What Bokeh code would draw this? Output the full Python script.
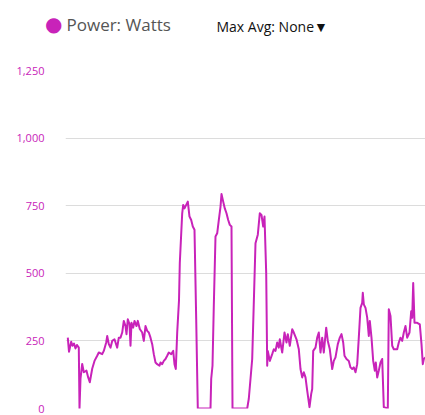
from bokeh.plotting import figure
from bokeh.layouts import column
from bokeh.models import Range1d, FixedTicker, NumeralTickFormatter
from bokeh.core.properties import value
from bokeh.embed import file_html
from bokeh.resources import INLINE

# ---- data ----
title_text = "Power: Watts"
selector_text = "Max Avg: None\u25bc"
legend_dot = "\u25cf"
y_ticks = [0, 250, 500, 750, 1000, 1250]

time_s = [3, 15, 37, 50, 65, 80, 95, 113, 120, 130, 147, 163, 190, 207, 223, 247, 270, 297, 313, 347,
          363, 387, 397, 413, 430, 447, 470, 497, 513, 530, 547, 563, 580, 590, 603, 620, 630, 640, 657, 670,
          690, 703, 723, 747, 763, 780, 797, 813, 830, 847, 863, 880, 897, 920, 930, 947, 963, 980, 997, 1013,
          1037, 1057, 1070, 1083, 1097, 1115, 1123, 1147, 1157, 1170, 1187, 1203, 1220, 1237, 1253, 1270, 1287, 1303, 1430, 1437,
          1450, 1463, 1480, 1497, 1513, 1530, 1540, 1557, 1573, 1590, 1607, 1623, 1640, 1650, 1797, 1813, 1847, 1880, 1903, 1923,
          1940, 1957, 1970, 1987, 1997, 2003, 2023, 2047, 2063, 2080, 2097, 2113, 2123, 2147, 2170, 2190, 2203, 2223, 2247, 2263,
          2290, 2313, 2330, 2347, 2363, 2380, 2397, 2420, 2437, 2447, 2457, 2480, 2497, 2513, 2530, 2547, 2563, 2587, 2603, 2623,
          2647, 2663, 2680, 2703, 2723, 2740, 2757, 2770, 2790, 2813, 2830, 2847, 2863, 2880, 2897, 2913, 2930, 2947, 2953, 2963,
          2980, 2997, 3013, 3023, 3040, 3057, 3073, 3083, 3097, 3113, 3130, 3147, 3163, 3203, 3213, 3230, 3247, 3263, 3297, 3313,
          3330, 3347, 3363, 3380, 3397, 3420, 3437, 3447, 3457, 3470, 3497, 3523, 3540, 3553, 3563, 3580]

watts = [262, 210, 247, 232, 240, 222, 235, 225, 0, 110, 165, 134, 140, 115, 97, 147, 176, 195, 207, 201,
         213, 244, 268, 238, 225, 250, 256, 225, 262, 262, 281, 324, 305, 275, 330, 312, 232, 317, 299, 324,
         305, 324, 294, 281, 250, 305, 287, 281, 262, 238, 201, 170, 164, 158, 170, 164, 176, 183, 195, 207,
         201, 213, 164, 146, 281, 400, 538, 722, 753, 740, 753, 765, 710, 697, 673, 661, 330, 0, 0, 109,
         158, 379, 636, 648, 697, 746, 793, 765, 740, 722, 697, 679, 673, 0, 0, 36, 183, 611, 643, 722,
         716, 673, 710, 501, 158, 213, 176, 201, 219, 213, 244, 225, 256, 207, 281, 244, 275, 232, 293, 281,
         256, 219, 146, 115, 134, 115, 66, 5, 54, 72, 213, 225, 262, 281, 207, 262, 207, 299, 250, 219,
         146, 176, 189, 238, 262, 275, 244, 195, 183, 176, 152, 146, 152, 134, 164, 262, 372, 391, 428, 385,
         372, 336, 268, 324, 262, 176, 140, 170, 115, 140, 170, 183, 5, 0, 367, 342, 232, 219, 219, 244,
         262, 250, 281, 305, 262, 281, 360, 336, 464, 317, 317, 311, 238, 164, 183, 189]

MAGENTA = "#c823b9"
FONT = "Open Sans"
W = 425
LEFT = 65
HEADER_H = 58

# ---- header: legend dot (as axis label in the left border), name and selector ----
header = figure(width=W, height=HEADER_H, x_range=Range1d(LEFT, W), y_range=Range1d(0, HEADER_H),
                output_backend="svg", toolbar_location=None,
                min_border_left=LEFT, min_border_right=0, min_border_top=0, min_border_bottom=0)
header.outline_line_color = None
header.grid.visible = False
header.xaxis.visible = False
dot_y = HEADER_H - 23
header.yaxis.ticker = FixedTicker(ticks=[dot_y])
header.yaxis.major_label_overrides = {dot_y: legend_dot}
header.yaxis.axis_line_color = None
header.yaxis.major_tick_line_color = None
header.yaxis.minor_tick_line_color = None
header.yaxis.major_label_standoff = -3
header.yaxis.major_label_text_color = MAGENTA
header.yaxis.major_label_text_font = "DejaVu Sans"
header.yaxis.major_label_text_font_size = "20px"
header.text([66], [HEADER_H - 24], text=[title_text], text_font=value(FONT), text_font_size="17px",
            text_color="#555555", text_baseline="middle", text_align="left")
header.text([216], [HEADER_H - 26], text=[selector_text], text_font=value(FONT), text_font_size="14px",
            text_color="#111111", text_baseline="middle", text_align="left")

# ---- main chart ----
p = figure(width=W, height=415 - HEADER_H, x_range=Range1d(-20, 3580), y_range=Range1d(0, 1250),
           output_backend="svg", toolbar_location=None,
           min_border_left=LEFT, min_border_right=0, min_border_top=12, min_border_bottom=7)
p.outline_line_color = None
p.xaxis.visible = False
p.xgrid.visible = False
p.ygrid.grid_line_color = "#dcdcdc"
p.ygrid.grid_line_width = 1
p.yaxis.ticker = FixedTicker(ticks=y_ticks)
p.yaxis.formatter = NumeralTickFormatter(format="0,0")
p.yaxis.axis_line_color = None
p.yaxis.major_tick_line_color = None
p.yaxis.minor_tick_line_color = None
p.yaxis.major_label_standoff = 15
p.yaxis.major_label_text_color = MAGENTA
p.yaxis.major_label_text_font = FONT
p.yaxis.major_label_text_font_size = "11px"

p.line(time_s, watts, line_color=MAGENTA, line_width=2, line_join="round")

layout = column(header, p, spacing=0)
open("out.html", "w").write(file_html(layout, INLINE))
